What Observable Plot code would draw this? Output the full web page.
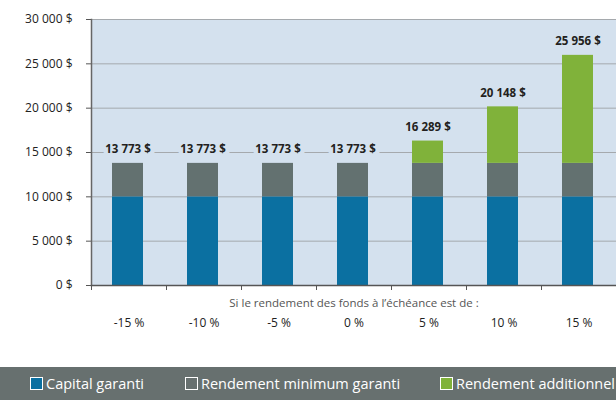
<!DOCTYPE html>
<html>
<head>
<meta charset="utf-8">
<script src="https://cdn.jsdelivr.net/npm/d3@7"></script>
<script src="https://cdn.jsdelivr.net/npm/@observablehq/plot@0.6"></script>
<style>
  html, body { margin: 0; padding: 0; background: #fff; width: 616px; height: 400px; overflow: hidden; font-family: "Open Sans", sans-serif; }
  #legend { position: relative; height: 33px; margin-top: 22px; background: #67706f; color: #fff; font-size: 14.5px; white-space: nowrap; overflow: hidden; }
  #legend .item { position: absolute; top: 7px; display: flex; align-items: center; }
  #legend .sw { width: 11px; height: 11px; border: 1px solid #fff; margin-right: 3px; }
</style>
</head>
<body>
<div id="chart"></div>
<div id="legend"></div>
<script>
const categories = ["-15 %", "-10 %", "-5 %", "0 %", "5 %", "10 %", "15 %"];
const seriesNames = ["Capital garanti", "Rendement minimum garanti", "Rendement additionnel"];
const capital = [10000, 10000, 10000, 10000, 10000, 10000, 10000];
const minimum = [3773, 3773, 3773, 3773, 3773, 3773, 3773];
const additional = [0, 0, 0, 0, 2516, 6375, 12183];
const totals = [13773, 13773, 13773, 13773, 16289, 20148, 25956];
const yTicks = [0, 5000, 10000, 15000, 20000, 25000, 30000];
const xTitle = "Si le rendement des fonds à l\u2019échéance est de :";

const colors = ["#0b70a1", "#637170", "#80b23a"];
const bg = "#d4e1ee";

const rows = [];
categories.forEach((c, i) => {
  rows.push({cat: c, series: seriesNames[0], value: capital[i]});
  rows.push({cat: c, series: seriesNames[1], value: minimum[i]});
  rows.push({cat: c, series: seriesNames[2], value: additional[i]});
});
const labels = categories.map((c, i) => ({cat: c, total: totals[i]}));

const fmt = v => d3.format(",")(v).replace(/,/g, " ") + " $";

const W = 616, mL = 91, mR = 0;
const step = (W - mL - mR) / categories.length;

const chart = Plot.plot({
  width: W,
  height: 345,
  marginTop: 19,
  marginLeft: mL,
  marginRight: mR,
  marginBottom: 60,
  style: {fontFamily: "Open Sans, sans-serif", fontSize: "12px", color: "#222", background: "#fff"},
  x: {domain: categories, padding: 0},
  y: {domain: [0, 30000]},
  color: {domain: seriesNames, range: colors},
  marks: [
    Plot.frame({fill: bg, stroke: null}),
    Plot.gridY(yTicks, {stroke: "#a5a9ad", strokeOpacity: 1, strokeWidth: 1}),
    Plot.barY(rows, {x: "cat", y: "value", fill: "series", insetLeft: 21, insetRight: 23, order: seriesNames}),
    Plot.text(labels, {x: "cat", y: "total", text: d => fmt(d.total), dy: -14, dx: -1, fontWeight: "bold", fontSize: 11.5, fill: "#231f20", stroke: bg, strokeWidth: 9, paintOrder: "stroke"}),
    Plot.axisY(yTicks, {tickFormat: fmt, tickSize: 5, tickPadding: 14, stroke: "#555", fill: "#222", fontSize: 12, label: null}),
    Plot.axisX({tickSize: 5, tickFormat: null, dx: -step / 2, stroke: "#555", label: null}),
    Plot.axisX(["15 %"], {tickSize: 5, tickFormat: null, dx: step / 2, stroke: "#555", label: null}),
    Plot.axisX({tickSize: 0, tickPadding: 33, fill: "#222", fontSize: 12, label: null}),
    Plot.text([xTitle], {frameAnchor: "bottom", dy: 21, fill: "#555", fontSize: 11.5}),
    Plot.frame({anchor: "left", stroke: "#666", strokeWidth: 1.5}),
    Plot.frame({anchor: "bottom", stroke: "#555", strokeWidth: 1.5})
  ]
});
document.getElementById("chart").appendChild(chart);

const legend = document.getElementById("legend");
const lefts = [30, 185, 440];
const swFill = [colors[0], "transparent", colors[2]];
seriesNames.forEach((s, i) => {
  const it = document.createElement("div");
  it.className = "item";
  it.style.left = lefts[i] + "px";
  const sw = document.createElement("span");
  sw.className = "sw";
  sw.style.background = swFill[i];
  const t = document.createElement("span");
  t.textContent = s;
  it.appendChild(sw); it.appendChild(t);
  legend.appendChild(it);
});
</script>
</body>
</html>
